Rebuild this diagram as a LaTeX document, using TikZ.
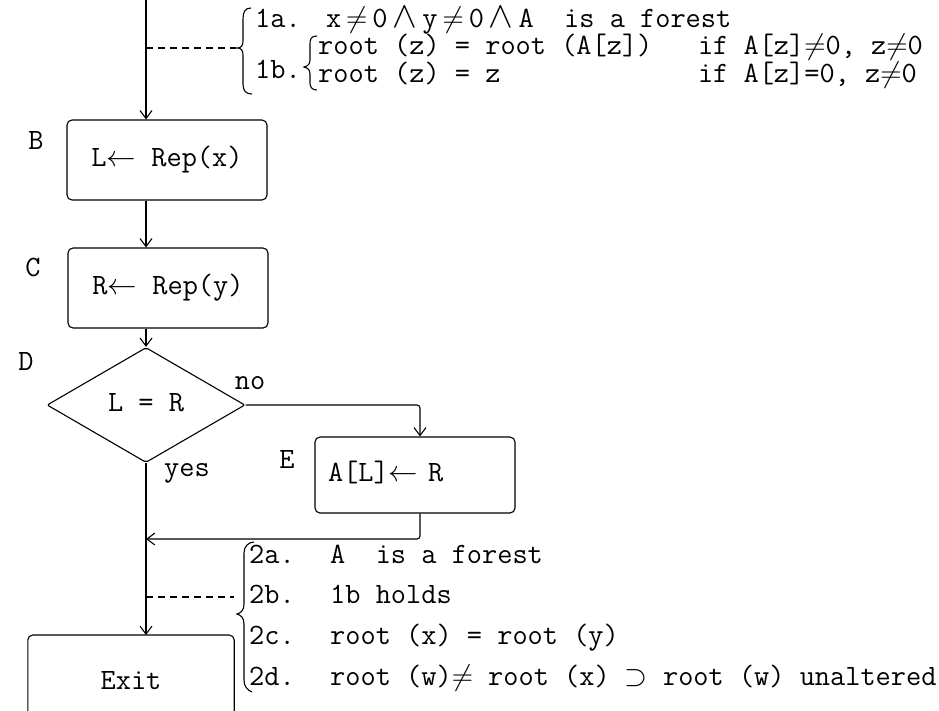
\RequirePackage{fix-cm}
\documentclass[tikz,border=0pt]{standalone}
\usepackage{fontspec}
\usetikzlibrary{arrows.meta,shapes.geometric}
\newcommand{\NEQ}{$\neq$}
\newcommand{\LAND}{{\fontsize{37}{37}\selectfont$\wedge$}}
\newcommand{\SUPS}{$\supset$}
\newcommand{\LARR}{$\leftarrow$}
\newcommand{\gp}{\kern5pt}
\begin{document}
\begin{tikzpicture}[x=1pt,y=-1pt,
  every node/.style={font=\ttfamily\fontsize{29.5}{32}\selectfont, inner sep=0pt, text height=19pt, text depth=6pt},
  box/.style={draw, rounded corners=5pt, line width=1.1pt},
  flow/.style={line width=1.1pt, -{Straight Barb[length=8pt,width=12pt]}},
  plain/.style={line width=1.1pt},
  dashline/.style={line width=1.1pt, dash pattern=on 7pt off 5pt},
  txt/.style={anchor=west}]
\useasboundingbox (0,0) rectangle (939,710);
\fill[white] (0,0) rectangle (939,710);

% boxes
\coordinate (top) at (146,0);
\node[box, minimum width=200pt, minimum height=80pt] (B) at (167,160) {L\LARR{} Rep(x)};
\node[box, minimum width=200pt, minimum height=80pt] (C) at (168,288) {R\LARR{} Rep(y)};
\node[draw, diamond, line width=1.1pt, minimum width=198pt, minimum height=115pt, rounded corners=2pt] (D) at (146,405) {L = R};
\node[box, minimum width=200pt, minimum height=76pt, text width=174pt, align=left, inner xsep=13pt] (E) at (415,475) {A[L]\LARR{} R};
\node[minimum width=206pt, minimum height=96pt, anchor=north] (X) at (131,635) {Exit};
\draw[plain, rounded corners=5pt] (X.south west) |- (X.north) -| (X.south east);

% labels
\node (Bl) at (36,143) {B};
\node (Cl) at (33,270) {C};
\node (Dl) at (26,364) {D};
\node (El) at (287,462) {E};
\node (no) at (250,383) {no};
\node (yes) at (187,470) {yes};

% connectors
\coordinate (eIn) at (420,0);
\coordinate (join) at (146,539);
\draw[flow] (top) -- (top |- B.north);
\draw[flow] (top |- B.south) -- (top |- C.north);
\draw[flow] (top |- C.south) -- (D.north);
\draw[flow, rounded corners=3pt] (D.east) -| (eIn |- E.north);
\draw[flow, rounded corners=3pt] (eIn |- E.south) |- (join);
\draw[flow] (D.south) -- (D.south |- X.north);

% dashed leaders
\coordinate (d1) at (236,48);
\draw[dashline] (top |- d1) -- (d1);
\coordinate (d2) at (234,597);
\draw[dashline] (join |- d2) -- (d2);

% braces
\draw[plain] (251,8) .. controls (245,8) and (243,12) .. (243,19) -- (243,41)
  .. controls (243,46) and (241,48) .. (237,48) .. controls (241,48) and (243,50) .. (243,55)
  -- (243,84) .. controls (243,91) and (246,94) .. (252,94);
\draw[plain] (317,36) .. controls (311,36) and (310,39) .. (310,44) -- (310,60)
  .. controls (310,64) and (308,66) .. (304,67) .. controls (308,68) and (310,70) .. (310,74)
  -- (310,83) .. controls (310,87) and (312,90) .. (317,90);
\draw[plain] (254,542) .. controls (249,542) and (244,546) .. (244,553) -- (244,604)
  .. controls (244,610) and (241,613) .. (237,614) .. controls (241,615) and (244,618) .. (244,624)
  -- (244,680) .. controls (244,686) and (247,690) .. (252,692);

% texts
\node[txt] (t1a) at (255,21) {1a.\kern5pt{} x\gp\NEQ\gp0\gp\LAND\gp y\gp\NEQ\gp0\gp\LAND\gp A~ is a forest};
\node[txt] (t1b) at (255,72) {1b.};
\node[txt] (r1) at (318,48) {root (z) = root (A[z])~~ if A[z]\NEQ{}0, z\NEQ{}0};
\node[txt] (r2) at (318,76) {root (z) = z~~~~~~~~~~~~ if A[z]=0, z\NEQ{}0};
\node[txt] (t2a) at (249,557) {2a.~ A~ is a forest};
\node[txt] (t2b) at (249,597) {2b.~ 1b holds};
\node[txt] (t2c) at (249,638) {2c.~ root (x) = root (y)};
\node[txt] (t2d) at (249,679) {2d.~ root (w)\NEQ{} root (x) \SUPS{} root (w) unaltered};
\end{tikzpicture}
\end{document}
